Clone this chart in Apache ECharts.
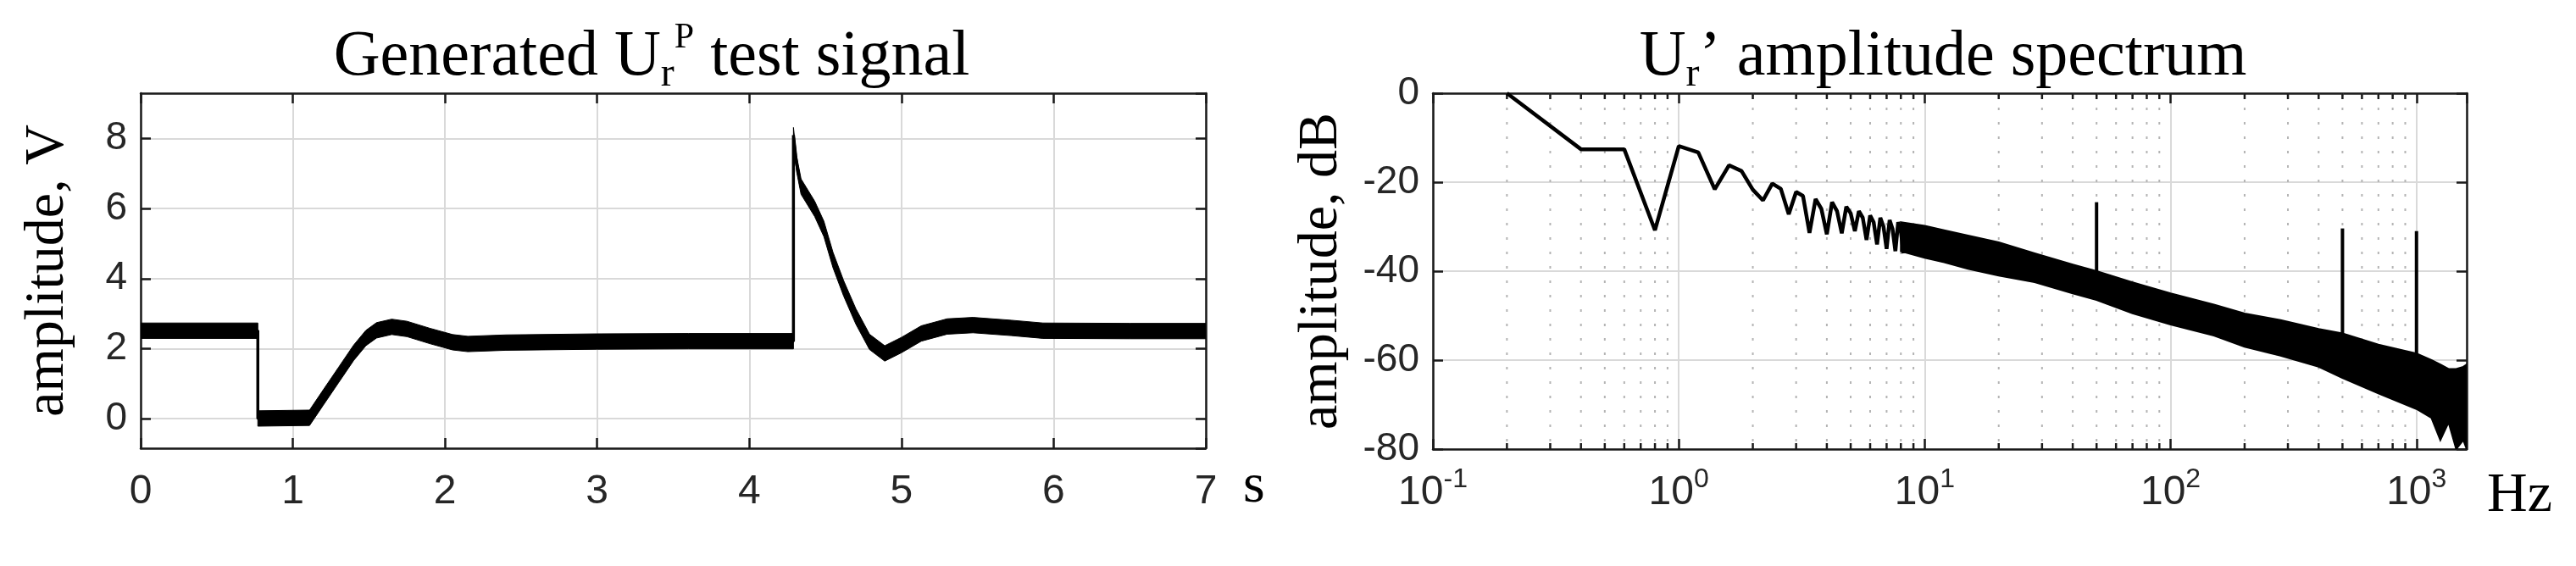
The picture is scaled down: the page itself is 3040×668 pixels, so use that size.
<!DOCTYPE html>
<html><head><meta charset="utf-8">
<script src="https://cdn.jsdelivr.net/npm/echarts@6/dist/echarts.min.js"></script>
<style>html,body{margin:0;padding:0;background:#fff}#c{width:3040px;height:668px}</style>
</head><body><div id="c"></div>
<script>
// ---------- Left panel: generated test signal (time in s, amplitude in V) ----------
const timeS   = [0, 0.77, 0.77, 1.11, 1.2, 1.3, 1.4, 1.48, 1.55, 1.65, 1.75, 1.9, 2.05, 2.15, 2.4, 3.0, 3.6, 4.29, 4.29, 4.31, 4.34, 4.43, 4.49, 4.55, 4.62, 4.70, 4.79, 4.89, 5.0, 5.13, 5.30, 5.47, 5.72, 5.93, 6.5, 7.0];
const signalV = [2.51, 2.51, 0.0, 0.02, 0.6, 1.24, 1.88, 2.3, 2.52, 2.62, 2.56, 2.36, 2.18, 2.13, 2.17, 2.2, 2.21, 2.21, 8.1, 7.3, 6.63, 5.99, 5.42, 4.53, 3.72, 2.92, 2.19, 1.86, 2.10, 2.43, 2.63, 2.67, 2.59, 2.51, 2.50, 2.50];
const rippleHalfV = 0.22;   // half peak-to-peak of the fast ripple band

// ---------- Right panel: amplitude spectrum (Hz, dB) ----------
const freqLow = [0.2, 0.4, 0.6, 0.8, 1.0, 1.2, 1.4, 1.6, 1.8, 2.0, 2.2, 2.4, 2.6, 2.8, 3.0, 3.2, 3.4, 3.6, 3.8, 4.0, 4.2, 4.4, 4.6, 4.8, 5.0, 5.2, 5.4, 5.6, 5.8, 6.0, 6.2, 6.4, 6.6, 6.8, 7.0, 7.2, 7.4, 7.6, 7.8, 8.0, 8.2];
const dbLow   = [0, -12.6, -12.6, -30.8, -11.9, -13.3, -21.6, -16.2, -17.5, -21.7, -24.1, -20.3, -21.5, -27.2, -22.2, -23.1, -31.4, -23.8, -26, -31.7, -24.5, -26.5, -31.5, -25.5, -27, -31, -26.5, -28, -33, -27.5, -29, -34, -28, -30, -35, -28.5, -30.5, -35.5, -29, -31, -36];
const freqBand  = [8, 10, 12, 15, 20, 28, 40, 50, 70, 100, 150, 200, 280, 400, 500, 700, 1000, 1150, 1250, 1350, 1450, 1550, 1600];
const bandUpper = [-29, -29.8, -30.8, -32, -33.5, -36, -38.5, -40, -42.5, -45, -47.5, -49.5, -51, -53, -54, -56.5, -58.5, -60, -61, -62, -62, -61.5, -61];
const bandLower = [-35.5, -37, -38, -39.5, -41, -42.5, -45, -46.5, -49.5, -52, -54.5, -57, -59, -61.5, -64, -67.5, -71, -73, -78, -74, -80, -78, -80];
const spikeFreq = [50, 500, 1000];
const spikeBase = [-40, -54, -58.5];
const spikeTop  = [-24.5, -30.4, -31];
const decades = [0.1, 1, 10, 100, 1000];

const minorFreqs = [];
decades.forEach(d => { for (let m = 2; m <= 9; m++) { const f = +(d * m).toPrecision(3); if (f < 1600) minorFreqs.push(f); } });

const SERIF = 'Liberation Serif', SANS = 'Liberation Sans';
const AX = '#1a1a1a', GRIDC = '#d9d9d9', LAB = '#262626';

function axLine() { return { show: true, onZero: false, lineStyle: { color: AX, width: 2.5 } }; }
function axTick(len) { return { show: true, inside: true, length: len, lineStyle: { color: AX, width: 2.5 } }; }
const split = { show: true, lineStyle: { color: GRIDC, width: 2 } };

const titleRich = {
  n:   { fontFamily: SERIF, fontWeight: 'normal', fontSize: 76, lineHeight: 88, color: '#000' },
  sub: { fontFamily: SERIF, fontWeight: 'normal', fontSize: 48, lineHeight: 58, verticalAlign: 'bottom', color: '#000' },
  sup: { fontFamily: SERIF, fontWeight: 'normal', fontSize: 42, lineHeight: 42, verticalAlign: 'top', color: '#000' }
};

const chart = echarts.init(document.getElementById('c'), null, { renderer: 'canvas' });
chart.setOption({
  animation: false,
  backgroundColor: '#fff',
  title: [
    { text: '{n|Generated U}{sub|r}{sup|P}{n| test signal}', left: 769, top: 24, textAlign: 'center', padding: 0,
      textStyle: { fontWeight: 'normal', rich: titleRich } },
    { text: '{n|U}{sub|r}{n|\u2019 amplitude spectrum}', left: 2293, top: 24, textAlign: 'center', padding: 0,
      textStyle: { fontWeight: 'normal', rich: titleRich } }
  ],
  grid: [
    { left: 166, top: 110, width: 1257, height: 419, outerBoundsMode: 'none' },
    { left: 1691, top: 110, width: 1220, height: 420, outerBoundsMode: 'none' }
  ],
  xAxis: [
    { type: 'value', gridIndex: 0, min: 0, max: 7, interval: 1, position: 'bottom',
      axisLine: axLine(), axisTick: axTick(12), splitLine: split,
      axisLabel: { margin: 28, fontFamily: SANS, fontSize: 48, color: LAB },
      name: 's', nameLocation: 'end', nameGap: 44,
      nameTextStyle: { fontFamily: SERIF, fontSize: 66, color: '#000', verticalAlign: 'top', lineHeight: 92 } },
    { type: 'value', gridIndex: 0, min: 0, max: 7, interval: 1, position: 'top',
      axisLine: axLine(), axisTick: axTick(12), splitLine: { show: false }, axisLabel: { show: false } },
    { type: 'log', logBase: 10, gridIndex: 1, min: 0.1, max: 1600, position: 'bottom',
      axisLine: axLine(), axisTick: axTick(12), splitLine: split,
      axisLabel: { margin: 20, showMaxLabel: false, color: LAB,
        formatter: v => '{b|10}{s|' + Math.round(Math.log10(v)) + '}',
        rich: { b: { fontFamily: SANS, fontSize: 48, lineHeight: 64, color: LAB },
                s: { fontFamily: SANS, fontSize: 32, lineHeight: 32, verticalAlign: 'top', color: LAB } } },
      name: 'Hz', nameLocation: 'end', nameGap: 24,
      nameTextStyle: { fontFamily: SERIF, fontSize: 66, color: '#000', verticalAlign: 'top', lineHeight: 112 } },
    { type: 'log', logBase: 10, gridIndex: 1, min: 0.1, max: 1600, position: 'top',
      axisLine: axLine(), axisTick: axTick(12), splitLine: { show: false }, axisLabel: { show: false } }
  ],
  yAxis: [
    { type: 'value', gridIndex: 0, min: -0.85, max: 9.3, splitNumber: 5, position: 'left',
      axisLine: axLine(), axisTick: axTick(12), splitLine: split,
      axisLabel: { margin: 16, showMinLabel: false, showMaxLabel: false, fontFamily: SANS, fontSize: 46, color: LAB },
      name: 'amplitude, V', nameLocation: 'middle', nameGap: 76,
      nameTextStyle: { fontFamily: SERIF, fontSize: 66, color: '#000' } },
    { type: 'value', gridIndex: 0, min: -0.85, max: 9.3, splitNumber: 5, position: 'right',
      axisLine: axLine(), axisTick: axTick(12), splitLine: { show: false }, axisLabel: { show: false } },
    { type: 'value', gridIndex: 1, min: -80, max: 0, interval: 20, position: 'left',
      axisLine: axLine(), axisTick: axTick(12), splitLine: split,
      axisLabel: { margin: 16, fontFamily: SANS, fontSize: 46, color: LAB },
      name: 'amplitude, dB', nameLocation: 'middle', nameGap: 98,
      nameTextStyle: { fontFamily: SERIF, fontSize: 66, color: '#000' } },
    { type: 'value', gridIndex: 1, min: -80, max: 0, interval: 20, position: 'right',
      axisLine: axLine(), axisTick: axTick(12), splitLine: { show: false }, axisLabel: { show: false } }
  ],
  series: [
    // ripple band of the time signal
    { type: 'custom', xAxisIndex: 0, yAxisIndex: 0, silent: true, clip: true, data: [[1, 2]],
      renderItem: (p, api) => {
        const up = timeS.map((t, i) => api.coord([t, signalV[i] + rippleHalfV]));
        const lo = timeS.map((t, i) => api.coord([t, signalV[i] - rippleHalfV])).reverse();
        return { type: 'polygon', shape: { points: up.concat(lo) }, style: { fill: '#000', stroke: '#000', lineWidth: 1 } };
      } },
    { type: 'line', xAxisIndex: 0, yAxisIndex: 0, showSymbol: false, silent: true,
      data: timeS.map((t, i) => [t, signalV[i]]),
      lineStyle: { color: '#000', width: 3.5 } },
    // minor log grid (dotted) + minor ticks
    { type: 'custom', xAxisIndex: 2, yAxisIndex: 2, silent: true, z: 1,
      data: minorFreqs.map(f => [f, -40]),
      renderItem: (params, api) => {
        const x = api.coord([api.value(0), -40])[0];
        const cs = params.coordSys;
        const top = cs.y, bot = cs.y + cs.height;
        return { type: 'group', children: [
          { type: 'line', shape: { x1: x, y1: top, x2: x, y2: bot }, style: { stroke: '#b4b4b4', lineWidth: 2, lineDash: [3, 14] } },
          { type: 'line', shape: { x1: x, y1: bot, x2: x, y2: bot - 7 }, style: { stroke: AX, lineWidth: 2.5 } },
          { type: 'line', shape: { x1: x, y1: top, x2: x, y2: top + 7 }, style: { stroke: AX, lineWidth: 2.5 } }
        ] };
      } },
    // dense high-frequency band of the spectrum
    { type: 'custom', xAxisIndex: 2, yAxisIndex: 2, silent: true, clip: true, data: [[10, -40]],
      renderItem: (p, api) => {
        const up = freqBand.map((f, i) => api.coord([f, bandUpper[i]]));
        const lo = freqBand.map((f, i) => api.coord([f, bandLower[i]])).reverse();
        return { type: 'polygon', shape: { points: up.concat(lo) }, style: { fill: '#000', stroke: '#000', lineWidth: 2 } };
      } },
    { type: 'line', xAxisIndex: 2, yAxisIndex: 2, showSymbol: false, silent: true,
      data: freqLow.map((f, i) => [f, dbLow[i]]),
      lineStyle: { color: '#000', width: 4.5 } }
  ].concat(spikeFreq.map((f, i) => ({
      type: 'line', xAxisIndex: 2, yAxisIndex: 2, showSymbol: false, silent: true,
      data: [[f, spikeBase[i]], [f, spikeTop[i]]],
      lineStyle: { color: '#000', width: 4 } })))
});
</script></body></html>
